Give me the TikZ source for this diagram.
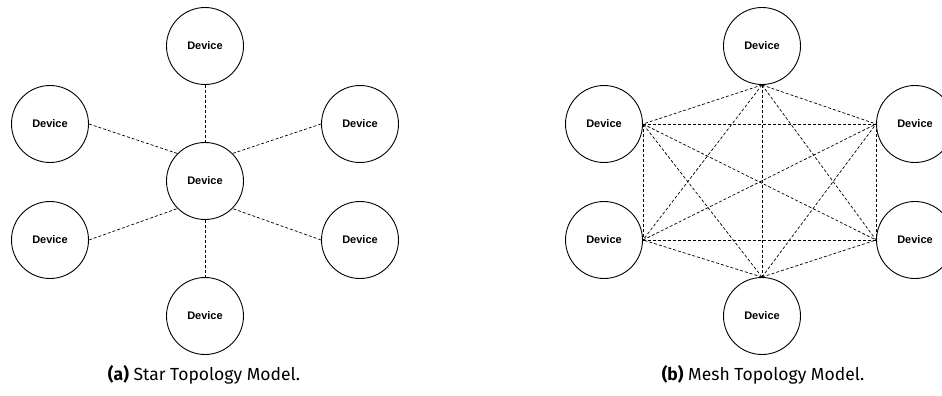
\documentclass[tikz,border=0pt]{standalone}
\usepackage{fontspec}
\setmainfont{Fira Sans}
\newfontfamily\labelfont{Liberation Sans}
\begin{document}
\begin{tikzpicture}[x=1pt,y=-1pt,
  device/.style={circle,draw,line width=0.9pt,minimum size=77pt,inner sep=0pt,
    font=\labelfont\fontsize{11}{13}\selectfont\bfseries},
  link/.style={dashed,line width=0.7pt,dash pattern=on 3pt off 2pt},
  caption/.style={font=\fontsize{17.5}{20}\selectfont}]
\useasboundingbox (0,0) rectangle (942,396);
\clip (0,0) rectangle (942,396);

% Star topology
\node[device] (sc) at (205,181) {Device};
\node[device] (st) at (205,46) {Device};
\node[device] (sb) at (205,316) {Device};
\node[device] (sl1) at (50,124) {Device};
\node[device] (sl2) at (50,240) {Device};
\node[device] (sr1) at (360,124) {Device};
\node[device] (sr2) at (360,240) {Device};
\draw[link] (st.south) -- (sc.north);
\draw[link] (sc.south) -- (sb.north);
\draw[link] (sl1.east) -- (sc.north west);
\draw[link] (sl2.east) -- (sc.south west);
\draw[link] (sr1.west) -- (sc.north east);
\draw[link] (sr2.west) -- (sc.south east);
\node[caption] (capa) at (204,375) {\textbf{(a)} Star Topology Model.};

% Mesh topology
\node[device] (mt) at (762,46) {Device};
\node[device] (mb) at (762,316) {Device};
\node[device] (ml1) at (604,124) {Device};
\node[device] (ml2) at (604,240) {Device};
\node[device] (mr1) at (915,124) {Device};
\node[device] (mr2) at (915,240) {Device};
\coordinate (pt) at (mt.south);
\coordinate (pb) at (mb.north);
\coordinate (pl1) at (ml1.east);
\coordinate (pl2) at (ml2.east);
\coordinate (pr1) at (mr1.west);
\coordinate (pr2) at (mr2.west);
\foreach \a/\b in {pt/pb,pt/pl1,pt/pl2,pt/pr1,pt/pr2,
                   pb/pl1,pb/pl2,pb/pr1,pb/pr2,
                   pl1/pl2,pl1/pr1,pl1/pr2,
                   pl2/pr1,pl2/pr2,pr1/pr2}
  \draw[link] (\a) -- (\b);
\node[caption] (capb) at (763,375) {\textbf{(b)} Mesh Topology Model.};
\end{tikzpicture}
\end{document}
